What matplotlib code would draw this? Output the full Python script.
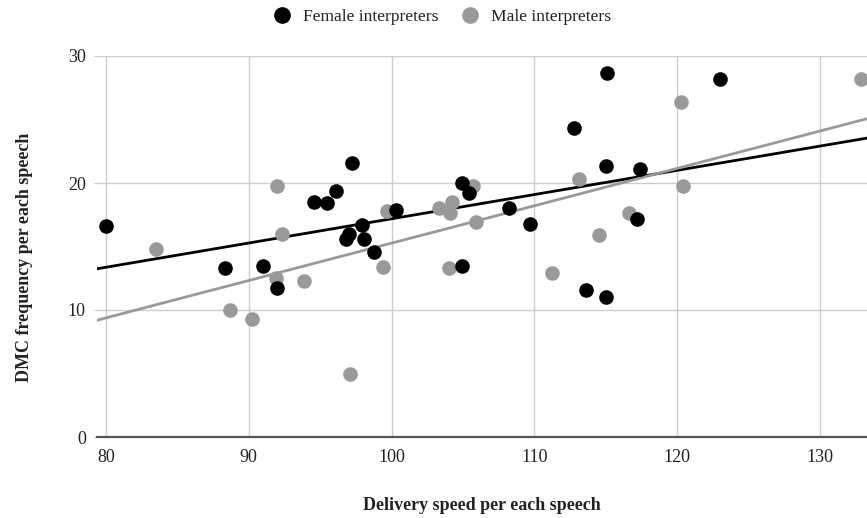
import numpy as np
import matplotlib
matplotlib.use("Agg")
import matplotlib.pyplot as plt
from matplotlib.lines import Line2D

# Delivery speed (x) and DMC frequency (y)
female_speed = [80.0, 88.3, 91.0, 92.0, 94.6, 95.5, 96.1, 97.2, 96.8, 97.0,
                97.9, 98.1, 98.8, 100.3, 104.9, 105.4, 104.9, 108.2, 109.7,
                112.8, 115.1, 115.0, 117.4, 117.2, 113.6, 115.0, 123.0]
female_dmc = [16.6, 13.3, 13.5, 11.7, 18.5, 18.4, 19.4, 21.6, 15.6, 16.0,
              16.7, 15.6, 14.6, 17.9, 20.0, 19.2, 13.5, 18.0, 16.8,
              24.3, 28.7, 21.3, 21.1, 17.2, 11.6, 11.0, 28.2]

male_speed = [83.5, 88.7, 90.2, 92.0, 92.3, 91.9, 93.9, 97.1, 99.4, 99.7,
              103.3, 104.2, 104.1, 105.7, 105.9, 104.0, 111.2, 113.1, 114.5,
              116.6, 120.3, 120.4, 132.9]
male_dmc = [14.8, 10.0, 9.3, 19.8, 16.0, 12.5, 12.3, 5.0, 13.4, 17.8,
            18.0, 18.5, 17.6, 19.8, 16.9, 13.3, 12.9, 20.3, 15.9,
            17.6, 26.4, 19.8, 28.2]

x_ticks = [80, 90, 100, 110, 120, 130]
y_ticks = [0, 10, 20, 30]

serif = ["Liberation Serif", "DejaVu Serif"]
plt.rcParams["font.family"] = serif

fig = plt.figure(figsize=(8.67, 5.18), dpi=100)
ax = fig.add_axes([97 / 867, 1 - 437 / 518, 770 / 867, 381 / 518])

xmin, xmax = 79.37, 133.29
ax.set_xlim(xmin, xmax)
ax.set_ylim(0, 30)

black = "#000000"
grey = "#999999"

ax.scatter(female_speed, female_dmc, s=90, color=black, zorder=4, clip_on=False)
ax.scatter(male_speed, male_dmc, s=90, color=grey, zorder=3, clip_on=False)

# linear trendlines over the full axis range
xs = np.array([xmin, xmax])
for sx, sy, c in [(female_speed, female_dmc, black), (male_speed, male_dmc, grey)]:
    k, b = np.polyfit(sx, sy, 1)
    ax.plot(xs, k * xs + b, color=c, lw=2, zorder=2)

ax.set_xticks(x_ticks)
ax.set_yticks(y_ticks)
ax.grid(True, color="#cccccc", lw=1, zorder=0)
ax.set_axisbelow(True)
for s in ["top", "right", "left"]:
    ax.spines[s].set_visible(False)
ax.spines["bottom"].set_color("#555555")
ax.spines["bottom"].set_linewidth(1.6)
ax.spines["bottom"].set_zorder(5)

ax.tick_params(axis="x", length=0, pad=9, labelsize=13, labelcolor="#222222")
ax.tick_params(axis="y", length=2, color="#cccccc", pad=6, labelsize=13,
               labelcolor="#222222")

fig.text(482 / 867, 1 - 505 / 518, "Delivery speed per each speech",
         ha="center", va="center", fontsize=13, fontweight="bold", color="#222222")
fig.text(25 / 867, 1 - 257 / 518, "DMC frequency per each speech",
         ha="center", va="center", rotation=90, fontsize=13, fontweight="bold",
         color="#222222")

handles = [Line2D([], [], ls="none", marker="o", ms=11, color=black),
           Line2D([], [], ls="none", marker="o", ms=11, color=grey)]
fig.legend(handles, ["Female interpreters", "Male interpreters"], ncol=2,
           loc="center", bbox_to_anchor=(441 / 867, 1 - 17 / 518), frameon=False,
           fontsize=12.6, handletextpad=0.6, columnspacing=1.2, handlelength=1.2,
           labelcolor="#222222")

fig.savefig("out.png", dpi=100)
